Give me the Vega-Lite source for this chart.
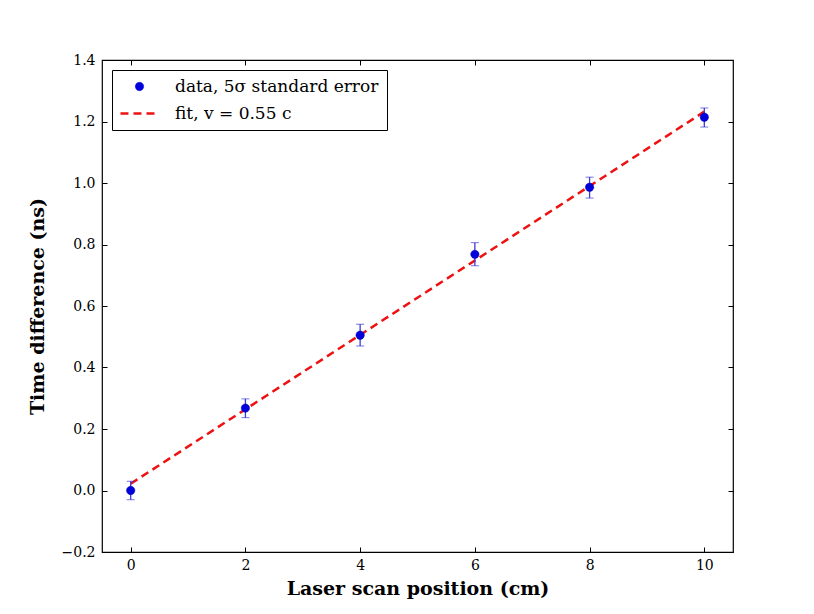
{
  "$schema": "https://vega.github.io/schema/vega-lite/v6.json",
  "autosize": {"type": "none"},
  "padding": {"left": 102, "top": 60, "right": 81, "bottom": 62},
  "width": 631,
  "height": 492,
  "background": "white",
  "config": {
    "view": {"stroke": "black", "strokeWidth": 1.2},
    "font": "DejaVu Serif",
    "axis": {
      "grid": false,
      "domain": false,
      "tickColor": "black",
      "tickSize": 5,
      "offset": -5,
      "labelFont": "DejaVu Serif",
      "labelFontSize": 14,
      "labelColor": "black",
      "titleFont": "DejaVu Serif",
      "titleFontSize": 19,
      "titleFontWeight": "bold",
      "titleColor": "black"
    },
    "legend": {"labelFont": "DejaVu Serif", "labelLimit": 0}
  },
  "resolve": {"axis": {"x": "independent", "y": "independent"}},
  "datasets": {
    "points": [
      {"pos": 0, "t": 0.0, "lo": -0.03, "hi": 0.03, "series": "data, 5σ standard error"},
      {"pos": 2, "t": 0.268, "lo": 0.237, "hi": 0.298, "series": "data, 5σ standard error"},
      {"pos": 4, "t": 0.505, "lo": 0.470, "hi": 0.541, "series": "data, 5σ standard error"},
      {"pos": 6, "t": 0.768, "lo": 0.731, "hi": 0.806, "series": "data, 5σ standard error"},
      {"pos": 8, "t": 0.986, "lo": 0.951, "hi": 1.019, "series": "data, 5σ standard error"},
      {"pos": 10, "t": 1.214, "lo": 1.182, "hi": 1.244, "series": "data, 5σ standard error"}
    ],
    "fit": [
      {"pos": 0, "t": 0.022, "series": "fit, v = 0.55 c"},
      {"pos": 10, "t": 1.232, "series": "fit, v = 0.55 c"}
    ]
  },
  "layer": [
    {
      "data": {"name": "fit"},
      "mark": {"type": "line", "strokeWidth": 2.5, "strokeDash": [8, 5]},
      "encoding": {
        "x": {
          "field": "pos", "type": "quantitative",
          "scale": {"domain": [-0.5, 10.5], "nice": false, "zero": false},
          "axis": {"values": [0, 2, 4, 6, 8, 10], "format": "d", "labelPadding": 6, "title": "Laser scan position (cm)", "titlePadding": 7}
        },
        "y": {
          "field": "t", "type": "quantitative",
          "scale": {"domain": [-0.2, 1.4], "nice": false, "zero": false},
          "axis": {"values": [-0.2, 0, 0.2, 0.4, 0.6, 0.8, 1.0, 1.2, 1.4], "format": ".1f", "labelPadding": 7, "title": "Time difference (ns)", "titlePadding": 14}
        },
        "color": {
          "field": "series", "type": "nominal",
          "scale": {"domain": ["data, 5σ standard error", "fit, v = 0.55 c"], "range": ["#0000dd", "#ee1111"]},
          "legend": {
            "title": null,
            "orient": "top-left",
            "offset": 10,
            "fillColor": "white",
            "strokeColor": "black",
            "padding": 8,
            "labelFont": "DejaVu Serif",
            "labelFontSize": 17,
            "labelLimit": 0,
            "labelColor": "black",
            "labelOffset": 27,
            "rowPadding": 9,
            "symbolOffset": 11,
            "symbolSize": 1400,
            "symbolStrokeWidth": 2.5,
            "encode": {
              "symbols": {
                "update": {
                  "shape": {"signal": "datum.value === 'fit, v = 0.55 c' ? 'stroke' : 'circle'"},
                  "size": {"signal": "datum.value === 'fit, v = 0.55 c' ? 1450 : 70"},
                  "strokeDash": {"signal": "datum.value === 'fit, v = 0.55 c' ? [8, 5] : []"},
                  "fill": {"signal": "datum.value === 'fit, v = 0.55 c' ? 'transparent' : '#0000dd'"},
                  "stroke": {"signal": "datum.value === 'fit, v = 0.55 c' ? '#ee1111' : '#0000aa'"},
                  "strokeWidth": {"signal": "datum.value === 'fit, v = 0.55 c' ? 2.5 : 0.5"},
                  "opacity": {"value": 1}
                }
              }
            }
          }
        }
      }
    },
    {
      "data": {"name": "points"},
      "mark": {"type": "errorbar", "ticks": {"size": 8, "color": "#3b3bd6"}, "rule": {"color": "#3b3bd6", "strokeWidth": 1.3}},
      "encoding": {
        "x": {"field": "pos", "type": "quantitative", "axis": {"orient": "top", "values": [0, 2, 4, 6, 8, 10], "labels": false, "title": null}},
        "y": {"field": "lo", "type": "quantitative", "axis": {"orient": "right", "values": [-0.2, 0, 0.2, 0.4, 0.6, 0.8, 1.0, 1.2, 1.4], "labels": false, "title": null}},
        "y2": {"field": "hi"}
      }
    },
    {
      "data": {"name": "points"},
      "mark": {"type": "point", "filled": true, "size": 70, "opacity": 1, "stroke": "#0000aa", "strokeWidth": 0.5, "shape": "circle"},
      "encoding": {
        "x": {"field": "pos", "type": "quantitative", "axis": null},
        "y": {"field": "t", "type": "quantitative", "axis": null},
        "color": {"field": "series", "type": "nominal"}
      }
    }
  ]
}
